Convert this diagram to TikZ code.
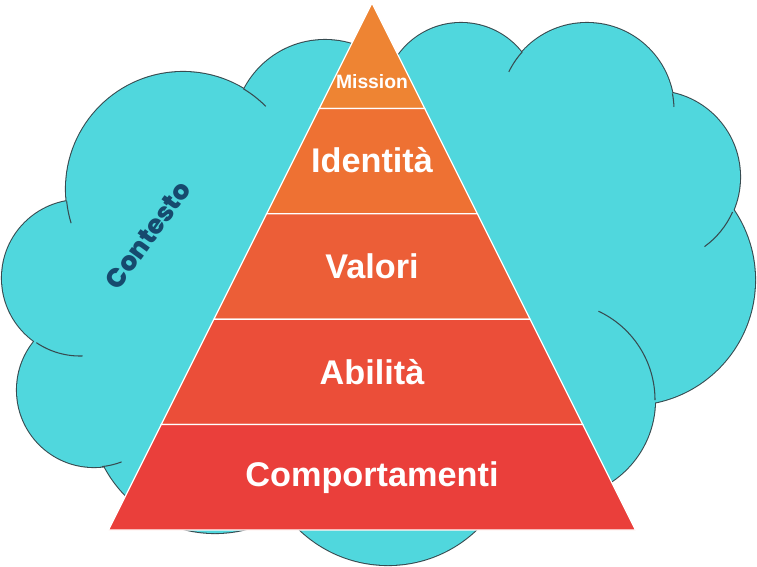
\documentclass[tikz,border=0pt]{standalone}
\usepackage{fontspec}
\setmainfont{Liberation Sans}
\newfontfamily\ctxfont{Poppins ExtraBold}
\usetikzlibrary{positioning}
\definecolor{cloudcyan}{RGB}{80,215,221}
\definecolor{lobeline}{RGB}{55,75,80}
\definecolor{ctxblue}{RGB}{22,74,110}
\definecolor{tierA}{RGB}{238,132,51}
\definecolor{tierB}{RGB}{238,113,51}
\definecolor{tierC}{RGB}{236,94,55}
\definecolor{tierD}{RGB}{235,78,57}
\definecolor{tierE}{RGB}{234,63,59}

\begin{document}
\begin{tikzpicture}[x=0.02cm, y=-0.02cm,
		lobe/.style={draw=lobeline, line width=1.2pt},
		stub/.style={draw=lobeline, line width=0.6pt},
		layer/.style={draw=white, line width=0.7pt},
		tier/.style={text=white, font=\bfseries\fontsize{19.5}{22}\selectfont}]

			\useasboundingbox (0,0) rectangle (757,566);

			\draw[lobe] (183,189) circle (117);
			\draw[lobe] (80,278) circle (78);
			\draw[lobe] (94,390) circle (77);
			\draw[lobe] (215,408) circle (125);
			\draw[lobe] (388,437) circle (128);
			\draw[lobe] (557,400) circle (98);
			\draw[lobe] (630,280) circle (125);
			\draw[lobe] (654,177) circle (86);
			\draw[lobe] (587,110) circle (87);
			\draw[lobe] (461,100) circle (77);
			\draw[lobe] (325,131) circle (91);

			\fill[cloudcyan] (183,189) circle (117);
			\fill[cloudcyan] (80,278) circle (78);
			\fill[cloudcyan] (94,390) circle (77);
			\fill[cloudcyan] (215,408) circle (125);
			\fill[cloudcyan] (388,437) circle (128);
			\fill[cloudcyan] (557,400) circle (98);
			\fill[cloudcyan] (630,280) circle (125);
			\fill[cloudcyan] (654,177) circle (86);
			\fill[cloudcyan] (587,110) circle (87);
			\fill[cloudcyan] (461,100) circle (77);
			\fill[cloudcyan] (325,131) circle (91);
			\fill[cloudcyan] (183,189) -- (80,278) -- (94,390) -- (215,408) -- (388,437) -- (557,400)
				-- (630,280) -- (654,177) -- (587,110) -- (461,100) -- (325,131) -- cycle;

			\draw[stub] (183,189) ++(174:117) arc[start angle=174, end angle=163, radius=117];
			\draw[stub] (183,189) ++(-59:117) arc[start angle=-59, end angle=-45, radius=117];
			\draw[stub] (80,278) ++(124:78) arc[start angle=124, end angle=88, radius=78];
			\draw[stub] (94,390) ++(84:77) arc[start angle=84, end angle=69, radius=77];
			\draw[stub] (557,400) ++(-65:98) arc[start angle=-65, end angle=0, radius=98];
			\draw[stub] (654,177) ++(24:86) arc[start angle=24, end angle=54, radius=86];
			\draw[stub] (587,110) ++(-11:87) arc[start angle=-11, end angle=-2, radius=87];
			\draw[stub] (587,110) ++(-138:87) arc[start angle=-138, end angle=-154, radius=87];

			\node (ctx) at (148,235) [rotate=54, text=ctxblue, font=\ctxfont\fontsize{15}{18}\selectfont] {Contesto};

			\filldraw[layer, fill=tierA] (372,3) -- (424.7,108.4) -- (319.3,108.4) -- cycle;
			\filldraw[layer, fill=tierB] (319.3,108.4) -- (424.7,108.4) -- (477.4,213.8) -- (266.6,213.8) -- cycle;
			\filldraw[layer, fill=tierC] (266.6,213.8) -- (477.4,213.8) -- (530.1,319.2) -- (213.9,319.2) -- cycle;
			\filldraw[layer, fill=tierD] (213.9,319.2) -- (530.1,319.2) -- (582.8,424.6) -- (161.2,424.6) -- cycle;
			\filldraw[layer, fill=tierE] (161.2,424.6) -- (582.8,424.6) -- (635.5,530) -- (108.5,530) -- cycle;

			\node (mission) at (372,82) [tier, font=\bfseries\fontsize{11}{13}\selectfont] {Mission};
			\node (ident) at (372,160) [tier] {Identità};
			\node (valori) at (372,266) [tier] {Valori};
			\node (abil) at (372,372) [tier] {Abilità};
			\node (comp) at (372,478) [tier] {Comportamenti};
		\end{tikzpicture}
\end{document}
